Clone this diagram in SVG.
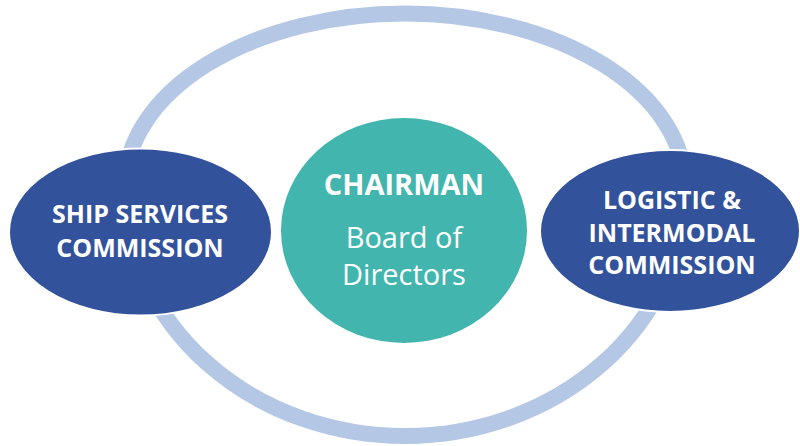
<svg xmlns="http://www.w3.org/2000/svg" width="800" height="446" viewBox="0 0 800 446">
  <style>
    .ring { fill: none; stroke: #B4C8E6; stroke-width: 16; }
    .comm { fill: #33529C; stroke: #FFFFFF; stroke-width: 2; }
    .chair { fill: #42B6AE; }
    .lbl { font-family: "Open Sans", "Liberation Sans", sans-serif; fill: #FFFFFF; text-anchor: middle; }
    .b { font-weight: bold; }
  </style>
  <rect width="800" height="446" fill="#FFFFFF"/>
  <g id="connectors">
    <path class="ring" d="M 125 187 A 280 173.5 0 0 1 685 187 A 280 249 0 0 1 125 187 Z"/>
  </g>
  <g id="ship-services">
    <ellipse class="comm" cx="140.5" cy="232" rx="131.5" ry="83.5"/>
    <text class="lbl b" font-size="25" x="140" y="223">SHIP SERVICES</text>
    <text class="lbl b" font-size="25" x="140" y="257">COMMISSION</text>
  </g>
  <g id="chairman">
    <ellipse class="chair" cx="404" cy="230.5" rx="123" ry="112.5"/>
    <text class="lbl b" font-size="29" x="404" y="195">CHAIRMAN</text>
    <text class="lbl" font-size="29" x="404" y="248">Board of</text>
    <text class="lbl" font-size="29" x="404" y="285">Directors</text>
  </g>
  <g id="logistic">
    <ellipse class="comm" cx="670" cy="231" rx="130" ry="81"/>
    <text class="lbl b" font-size="25" x="672" y="209">LOGISTIC &amp;</text>
    <text class="lbl b" font-size="25" x="672" y="242">INTERMODAL</text>
    <text class="lbl b" font-size="25" x="672" y="274">COMMISSION</text>
  </g>
</svg>
